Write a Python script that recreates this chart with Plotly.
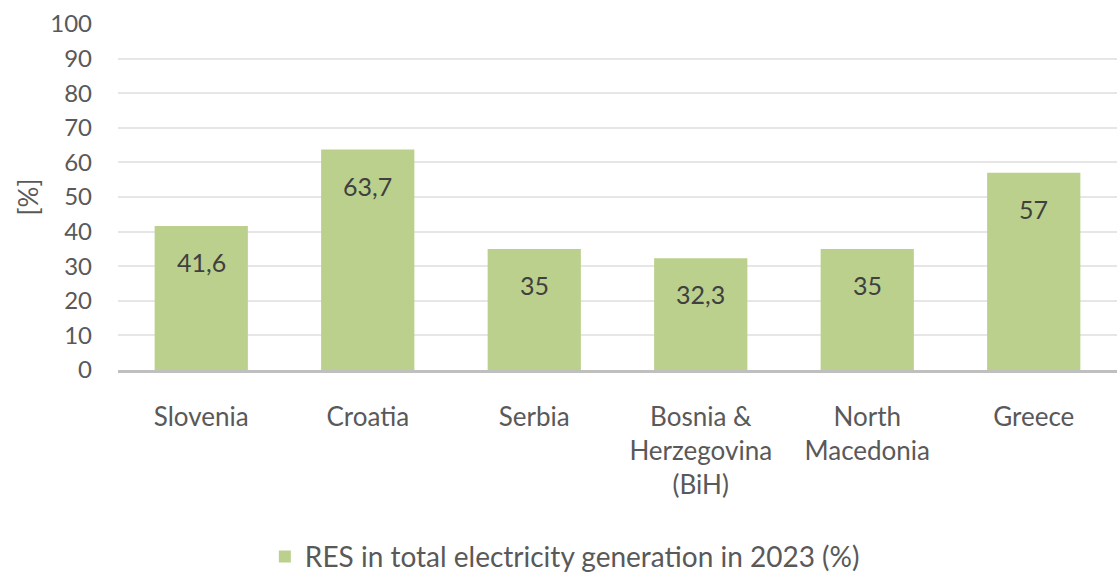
import plotly.graph_objects as go

categories = ["Slovenia", "Croatia", "Serbia", "Bosnia &<br>Herzegovina<br>(BiH)", "North<br>Macedonia", "Greece"]
values = [41.6, 63.7, 35, 32.3, 35, 57]
labels = ["41,6", "63,7", "35", "32,3", "35", "57"]
series_name = "RES in total electricity generation in 2023 (%)"
y_ticks = list(range(0, 101, 10))

FONT = "Lato"
GRAY = "#595959"
GREEN = "#bbd08c"

fig = go.Figure()
fig.add_trace(go.Bar(
    x=categories, y=values, name=series_name,
    marker=dict(color=GREEN, line=dict(width=0)),
    width=0.56,
))

for c, v, t in zip(categories, values, labels):
    fig.add_annotation(x=c, y=v, text=t, showarrow=False, yshift=-36,
                       font=dict(family=FONT, size=25, color="#404040"))

fig.update_layout(
    width=1117, height=574,
    margin=dict(l=118, r=0, t=24, b=204, autoexpand=False),
    plot_bgcolor="white", paper_bgcolor="white",
    showlegend=True,
    legend=dict(orientation="h", x=0.147, xanchor="left", yref="container", y=0.03, yanchor="middle",
                font=dict(family=FONT, size=28, color=GRAY), itemwidth=30),
    font=dict(family=FONT, color=GRAY),
)
fig.update_yaxes(range=[0, 100], tickvals=y_ticks, showgrid=True, gridcolor="#e6e6e6", gridwidth=1.5,
                 zeroline=False, tickfont=dict(family=FONT, size=24, color=GRAY),
                 title=dict(text="[%]", font=dict(family=FONT, size=26, color=GRAY), standoff=4),
                 ticks="", showline=False, ticklabelstandoff=25)
fig.update_xaxes(showline=True, linecolor="#bfbfbf", linewidth=3, ticks="",
                 tickfont=dict(family=FONT, size=26, color=GRAY), ticklabelstandoff=22)

fig.write_html("out.html", config={"displayModeBar": False},
               post_script="document.body.style.margin='0';document.body.style.padding='0';")
